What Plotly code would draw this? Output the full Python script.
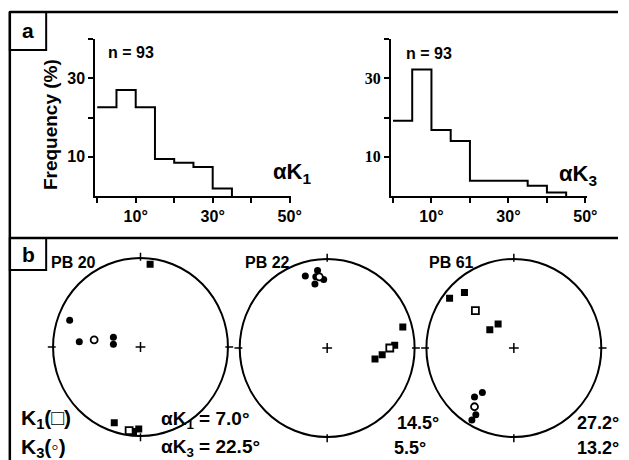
import plotly.graph_objects as go

# ---------------- data ----------------
bin_edges = [0, 5, 10, 15, 20, 25, 30, 35, 40, 45, 50]
freq_k1 = [22.6, 27.0, 22.6, 9.4, 8.5, 7.4, 1.9]
freq_k3 = [19.2, 32.2, 16.8, 14.0, 3.9, 3.9, 3.9, 2.6, 0.9]
n_samples = 93
x_tickvals = [10, 30, 50]
x_ticktext = ["10°", "30°", "50°"]
x_minor_ticks = [0, 20, 40]
y_tickvals = [10, 30]
y_ticktext = ["10", "30"]
y_minor_ticks = [20, 40]

sites = ["PB 20", "PB 22", "PB 61"]
# specimen K1 axes (filled squares) and mean (open square), K3 axes (filled circles) and mean (open circle)
k1_x = [[0.11, -0.30, -0.08, -0.02], [0.865, 0.547, 0.629, 0.772], [-0.735, -0.565, -0.275, -0.18]]
k1_y = [[0.93, -0.85, -0.95, -0.92], [0.236, -0.124, -0.075, 0.03], [0.56, 0.625, 0.205, 0.27]]
k1_mean_x = [-0.13, 0.716, -0.44]
k1_mean_y = [-0.94, 0.0, 0.42]
k3_x = [[-0.81, -0.70, -0.31, -0.31], [-0.25, -0.11, -0.04, -0.14, -0.13], [-0.45, -0.36, -0.435, -0.48]]
k3_y = [[0.30, 0.06, 0.11, 0.03], [0.81, 0.87, 0.77, 0.72, 0.80], [-0.55, -0.50, -0.75, -0.81]]
k3_mean_x = [-0.53, -0.09, -0.45]
k3_mean_y = [0.08, 0.80, -0.66]
alpha_k1 = ["7.0°", "14.5°", "27.2°"]
alpha_k3 = ["22.5°", "5.5°", "13.2°"]

# ---------------- layout helpers ----------------
W, H = 629, 460
def px(x):
    return x / W
def py(y):
    return 1 - y / H

FONT = "Liberation Sans Narrow, Liberation Sans, Arial, sans-serif"
SERIF = "Liberation Serif, Times New Roman, serif"
fig = go.Figure()

# ---------------- histograms ----------------
def step_xy(vals):
    xs = bin_edges[:len(vals) + 1]
    ys = list(vals) + [0]
    return xs, ys

tick_style = dict(ticks="outside", ticklen=5, tickwidth=2, tickcolor="black")
hist_left = [97, 398]
for i, vals in enumerate([freq_k1, freq_k3]):
    xa = "x" if i == 0 else "x2"
    ya = "y" if i == 0 else "y2"
    xs, ys = step_xy(vals)
    fig.add_trace(go.Scatter(x=xs, y=ys, mode="lines", line=dict(color="black", width=2, shape="hv"),
                             xaxis=xa, yaxis=ya, showlegend=False, hoverinfo="skip"))
    axkey = "" if i == 0 else "2"
    fig.layout["xaxis" + axkey] = dict(
        domain=[px(hist_left[i]), px(hist_left[i] + 199)], range=[-0.5, 50.3], anchor=ya,
        showline=True, linecolor="black", linewidth=2, **tick_style,
        tickvals=x_tickvals, ticktext=[f"<b>{t}</b>" for t in x_ticktext],
        minor=dict(tickvals=x_minor_ticks, **tick_style),
        showgrid=False, zeroline=False,
        tickfont=dict(family=FONT, size=16, color="black"), fixedrange=True)
    fig.layout["yaxis" + axkey] = dict(
        domain=[py(196), py(39)], range=[0, 40], anchor=xa,
        showline=True, linecolor="black", linewidth=2, **tick_style,
        tickvals=y_tickvals, ticktext=[f"<b>{t}</b>" for t in y_ticktext],
        minor=dict(tickvals=y_minor_ticks, **tick_style),
        showgrid=False, zeroline=False,
        tickfont=dict(family=FONT if i == 0 else SERIF, size=16, color="black"), fixedrange=True)

# ---------------- stereonets ----------------
R = 89
centers = [(143, 347), (333, 348), (523, 348)]
shapes = []
for i, (cx, cy) in enumerate(centers):
    n = i + 3
    xa, ya = f"x{n}", f"y{n}"
    half = 100
    fig.layout[f"xaxis{n}"] = dict(domain=[px(cx - half), px(cx + half)], range=[-half / R, half / R],
                                  anchor=ya, visible=False, fixedrange=True)
    fig.layout[f"yaxis{n}"] = dict(domain=[py(cy + half), py(cy - half)], range=[-half / R, half / R],
                                  anchor=xa, visible=False, fixedrange=True)
    shapes.append(dict(type="circle", xref=xa, yref=ya, x0=-1, y0=-1, x1=1, y1=1,
                       line=dict(color="black", width=2)))
    for (dx, dy) in [(0, 1), (1, 0), (0, -1), (-1, 0)]:
        shapes.append(dict(type="line", xref=xa, yref=ya, x0=dx * 0.97, y0=dy * 0.97,
                           x1=dx * 1.06, y1=dy * 1.06, line=dict(color="black", width=1.5)))
    fig.add_trace(go.Scatter(x=[0], y=[0], mode="markers", xaxis=xa, yaxis=ya, showlegend=False,
                             marker=dict(symbol="cross-thin", size=7, line=dict(color="black", width=1.5)),
                             hoverinfo="skip"))
    fig.add_trace(go.Scatter(x=k1_x[i], y=k1_y[i], mode="markers", xaxis=xa, yaxis=ya, showlegend=False,
                             marker=dict(symbol="square", size=7, color="black"), hoverinfo="skip"))
    fig.add_trace(go.Scatter(x=k3_x[i], y=k3_y[i], mode="markers", xaxis=xa, yaxis=ya, showlegend=False,
                             marker=dict(symbol="circle", size=7, color="black"), hoverinfo="skip"))
    fig.add_trace(go.Scatter(x=[k1_mean_x[i]], y=[k1_mean_y[i]], mode="markers", xaxis=xa, yaxis=ya,
                             showlegend=False, hoverinfo="skip",
                             marker=dict(symbol="square", size=7, color="white", line=dict(color="black", width=1.8))))
    fig.add_trace(go.Scatter(x=[k3_mean_x[i]], y=[k3_mean_y[i]], mode="markers", xaxis=xa, yaxis=ya,
                             showlegend=False, hoverinfo="skip",
                             marker=dict(symbol="circle", size=7, color="white", line=dict(color="black", width=1.8))))

# ---------------- frame ----------------
def pline(x0, y0, x1, y1, w):
    shapes.append(dict(type="line", xref="paper", yref="paper", x0=px(x0), y0=py(y0), x1=px(x1), y1=py(y1),
                       line=dict(color="black", width=w)))
pline(10, 12, 629, 12, 2.5)
pline(10, 12, 10, 460, 2.5)
pline(10, 238, 629, 238, 2.5)
shapes.append(dict(type="rect", xref="paper", yref="paper", x0=px(10), x1=px(47), y0=py(50), y1=py(12),
                   line=dict(color="black", width=2)))
shapes.append(dict(type="rect", xref="paper", yref="paper", x0=px(10), x1=px(47), y0=py(270), y1=py(238),
                   line=dict(color="black", width=2)))

# ---------------- text ----------------
ann = []
def text(t, x, y, size, anchor="left", bold=True, angle=0, family=FONT):
    if bold:
        t = f"<b>{t}</b>"
    ann.append(dict(text=t, x=px(x), y=py(y), xref="paper", yref="paper", xanchor=anchor, yanchor="middle",
                    showarrow=False, textangle=angle, font=dict(family=family, size=size, color="black")))

text("a", 29, 31, 21, anchor="center")
text("b", 29, 254, 21, anchor="center")
text(f"n = {n_samples}", 108, 52, 16)
text(f"n = {n_samples}", 411, 53, 16)
text("Frequency (%)", 51, 125, 19, anchor="center", angle=-90)
text("αK<sub>1</sub>", 276, 173, 22)
text("αK<sub>3</sub>", 567, 175, 22)
pb_x = [50, 247, 435]
for i, s in enumerate(sites):
    text(s, pb_x[i], 262, 16)
text("K<sub>1</sub>(□)", 19, 419, 21)
text("K<sub>3</sub>(◦)", 19, 448, 21)
text(f"αK<sub>1</sub> = {alpha_k1[0]}", 162, 420, 19)
text(f"αK<sub>3</sub> = {alpha_k3[0]}", 162, 448, 19)
text(alpha_k1[1], 402, 423, 18)
text(alpha_k3[1], 399, 448, 18)
text(alpha_k1[2], 585, 423, 18)
text(alpha_k3[2], 585, 448, 18)

fig.update_layout(width=W, height=H, margin=dict(l=0, r=0, t=0, b=0), paper_bgcolor="white",
                  plot_bgcolor="white", shapes=shapes, annotations=ann, showlegend=False)
fig.write_html("out.html", config={"displayModeBar": False},
               post_script="document.body.style.margin='0px';")
